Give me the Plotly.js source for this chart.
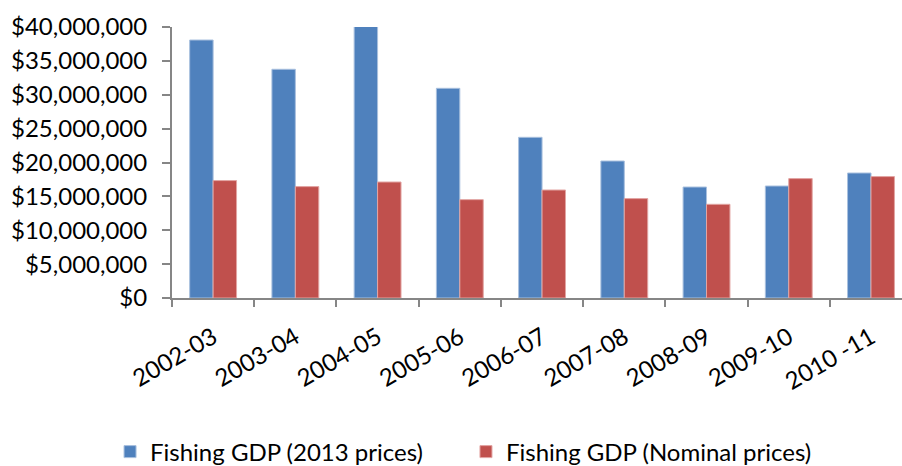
<!DOCTYPE html>
<html>
<head>
<meta charset="utf-8">
<script src="https://cdn.plot.ly/plotly-3.0.1.min.js"></script>
<style>html,body{margin:0;padding:0;background:#fff;}#chart{width:902px;height:466px;}</style>
</head>
<body>
<div id="chart"></div>
<script>
const categories = ["2002-03","2003-04","2004-05","2005-06","2006-07","2007-08","2008-09","2009-10","2010 -11"];
const realPrices = [38080000, 33760000, 40100000, 30950000, 23720000, 20220000, 16380000, 16530000, 18450000];
const nominalPrices = [17330000, 16440000, 17120000, 14520000, 15940000, 14670000, 13830000, 17620000, 17920000];
const seriesNames = ["Fishing GDP (2013 prices)", "Fishing GDP (Nominal prices)"];
const yTicks = [0, 5000000, 10000000, 15000000, 20000000, 25000000, 30000000, 35000000, 40000000];
const yTickText = yTicks.map(v => "$" + v.toLocaleString("en-US"));

const fontFam = "Lato, 'Open Sans', sans-serif";
const traces = [
  {type:"bar", x:categories, y:realPrices, name:seriesNames[0], legend:"legend",
   marker:{color:"#4F81BD", line:{color:"#a9c0de", width:1}}},
  {type:"bar", x:categories, y:nominalPrices, name:seriesNames[1], legend:"legend2",
   marker:{color:"#C0504D", line:{color:"#e2a5a3", width:1}}}
];
const legendBase = {orientation:"h", xref:"container", yref:"container", xanchor:"left",
          y:0.03, yanchor:"middle", font:{family:fontFam, size:24, color:"#000"},
          bgcolor:"rgba(0,0,0,0)"};
const layout = {
  width:902, height:466,
  margin:{l:172, r:0, t:27, b:168, pad:0},
  paper_bgcolor:"#fff", plot_bgcolor:"#fff",
  font:{family:fontFam, size:24, color:"#000"},
  barmode:"group", bargap:0.43, bargroupgap:0,
  showlegend:true,
  legend:Object.assign({}, legendBase, {x:0.122}),
  legend2:Object.assign({}, legendBase, {x:0.5166}),
  xaxis:{type:"category", range:[-0.5, 8.377], showgrid:false, showline:true,
         linecolor:"#868686", linewidth:2, ticks:"outside", tickson:"boundaries",
         ticklen:7, tickwidth:2, tickcolor:"#868686", tickangle:-30,
         ticklabelstandoff:14, ticklabelshift:0,
         tickfont:{family:fontFam, size:24, color:"#000"}, zeroline:false, fixedrange:true},
  yaxis:{range:[0, 40000000], tickmode:"array", tickvals:yTicks, ticktext:yTickText,
         showgrid:false, showline:true, linecolor:"#868686", linewidth:2,
         ticks:"outside", ticklen:8, tickwidth:2, tickcolor:"#868686",
         tickfont:{family:fontFam, size:24, color:"#000"}, zeroline:false, ticklabelstandoff:10}
};
Plotly.newPlot("chart", traces, layout, {displayModeBar:false, staticPlot:true});
</script>
</body>
</html>
